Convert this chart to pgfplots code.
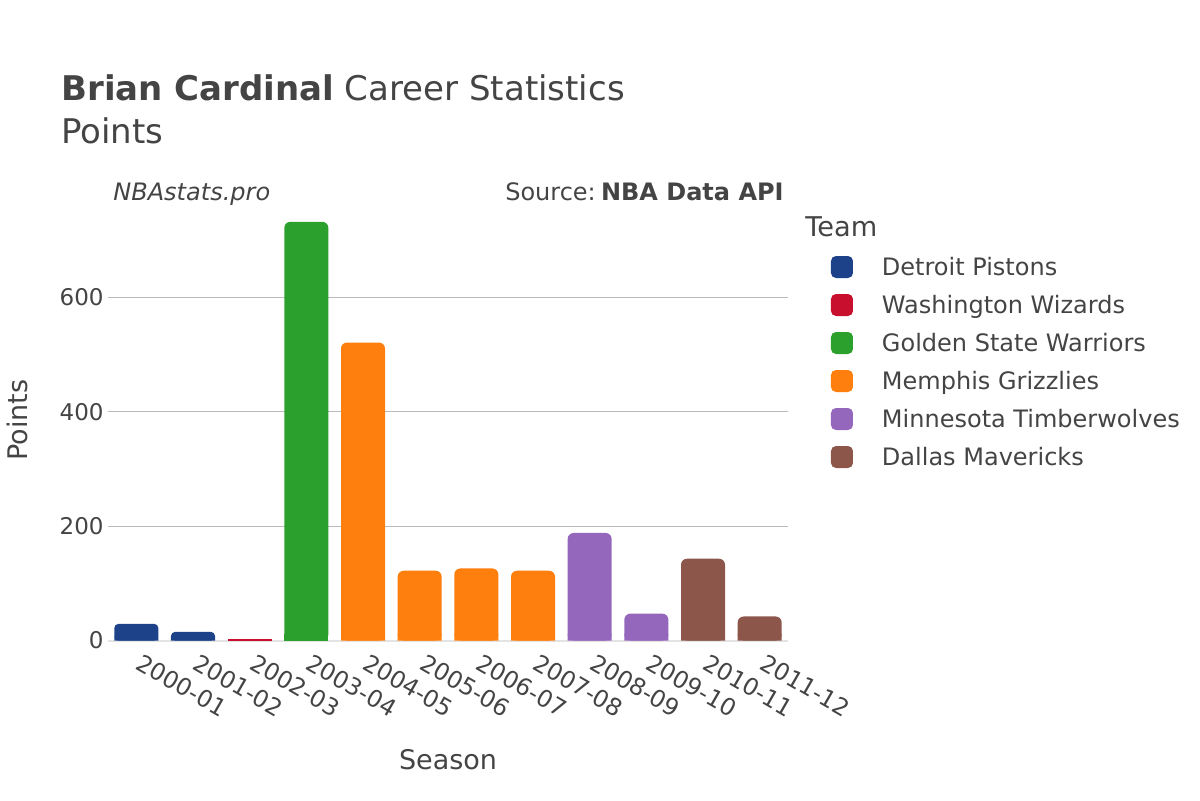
\documentclass[border=0pt]{standalone}
\usepackage{fontspec}
\setmainfont{DejaVu Sans}
\usepackage{pgfplots}
\pgfplotsset{compat=1.18}
\definecolor{txt}{HTML}{444444}
\definecolor{det}{HTML}{1D428A}
\definecolor{was}{HTML}{C8102E}
\definecolor{gsw}{HTML}{2CA02C}
\definecolor{mem}{HTML}{FF7F0E}
\definecolor{mnt}{HTML}{9467BD}
\definecolor{dal}{HTML}{8C564B}
\definecolor{gridc}{HTML}{BABABA}
\definecolor{zeroc}{HTML}{E3E3E3}
\begin{document}
\begin{tikzpicture}
\path[use as bounding box] (0,0) rectangle (600pt,400pt);
\begin{axis}[
  at={(54pt,79.75pt)}, anchor=south west,
  scale only axis, width=340pt, height=220.2pt,
  ybar, bar width=22pt, bar shift=0pt,
  xmin=-0.5, xmax=11.5, ymin=0, ymax=770,
  xtick={0,1,2,3,4,5,6,7,8,9,10,11},
  xticklabels={2000-01,2001-02,2002-03,2003-04,2004-05,2005-06,2006-07,2007-08,2008-09,2009-10,2010-11,2011-12},
  ytick={0,200,400,600},
  extra y ticks={0}, extra y tick labels={},
  extra y tick style={grid style={zeroc, line width=1pt}},
  axis line style={draw=none},
  major tick length=0pt,
  ymajorgrids, grid style={gridc, line width=0.5pt},
  /pgf/number format/assume math mode=true,
  ticklabel style={font=\fontsize{11.5}{13}\selectfont, text=txt},
  yticklabel style={inner sep=2pt},
  xticklabel style={font=\fontsize{11.8}{13}\selectfont, inner sep=0pt, anchor=north west, xshift=3.5pt, yshift=-6pt, rotate=-30},
  legend image code/.code={\fill[#1,draw=none,rounded corners=2.5pt] (0pt,-1.13pt) rectangle (11pt,9.87pt);},
  legend style={at={(1.0632,0.8731)}, anchor=north west, draw=none, fill=none,
    inner sep=0pt, outer sep=0pt,
    font=\fontsize{12}{14}\selectfont, text=txt, row sep=8pt,
    cells={anchor=base west},
    nodes={inner sep=0pt, text height=9.87pt, text depth=1.13pt},
    /tikz/every odd column/.append style={column sep=14.5pt}},
]
\addplot[fill=det, draw=none, rounded corners=2pt] coordinates {(0,29) (1,15)};
\addlegendentry{Detroit Pistons}
\addplot[fill=was, draw=none] coordinates {(2,3)};
\addlegendentry{Washington Wizards}
\addplot[fill=gsw, draw=none, rounded corners=3pt] coordinates {(3,732)};
\addlegendentry{Golden State Warriors}
\addplot[fill=mem, draw=none, rounded corners=3pt] coordinates {(4,521) (5,122) (6,126) (7,122)};
\addlegendentry{Memphis Grizzlies}
\addplot[fill=mnt, draw=none, rounded corners=3pt] coordinates {(8,188) (9,47)};
\addlegendentry{Minnesota Timberwolves}
\addplot[fill=dal, draw=none, rounded corners=3pt] coordinates {(10,143) (11,42)};
\addlegendentry{Dallas Mavericks}
% square bottoms
\addplot[fill=det, draw=none, forget plot] coordinates {(0,7) (1,7)};
\addplot[fill=gsw, draw=none, forget plot] coordinates {(3,11)};
\addplot[fill=mem, draw=none, forget plot] coordinates {(4,11) (5,11) (6,11) (7,11)};
\addplot[fill=mnt, draw=none, forget plot] coordinates {(8,11) (9,11)};
\addplot[fill=dal, draw=none, forget plot] coordinates {(10,11) (11,11)};
\end{axis}
\node[anchor=base west, text=txt, font=\fontsize{17}{20}\selectfont, inner sep=0pt] at (30.5pt,349.6pt) {\textbf{Brian Cardinal} Career Statistics};
\node[anchor=base west, text=txt, font=\fontsize{17}{20}\selectfont, inner sep=0pt] at (30.5pt,328.25pt) {Points};
\node[anchor=base west, text=txt, font=\fontsize{12}{14}\selectfont\itshape, inner sep=0pt] at (56.5pt,299.75pt) {NBAstats.pro};
\node[anchor=base east, text=txt, font=\fontsize{12}{14}\selectfont, inner sep=0pt] at (392pt,299.75pt) {Source:\hspace{0.22em}\textbf{NBA Data API}};
\node[anchor=base west, text=txt, font=\fontsize{13.6}{15}\selectfont, inner sep=0pt] at (402.5pt,281.7pt) {Team};
\node[rotate=90, text=txt, font=\fontsize{13.5}{15}\selectfont] at (8.5pt,190pt) {Points};
\node[text=txt, font=\fontsize{13.5}{15}\selectfont] at (224pt,20pt) {Season};
\end{tikzpicture}
\end{document}
